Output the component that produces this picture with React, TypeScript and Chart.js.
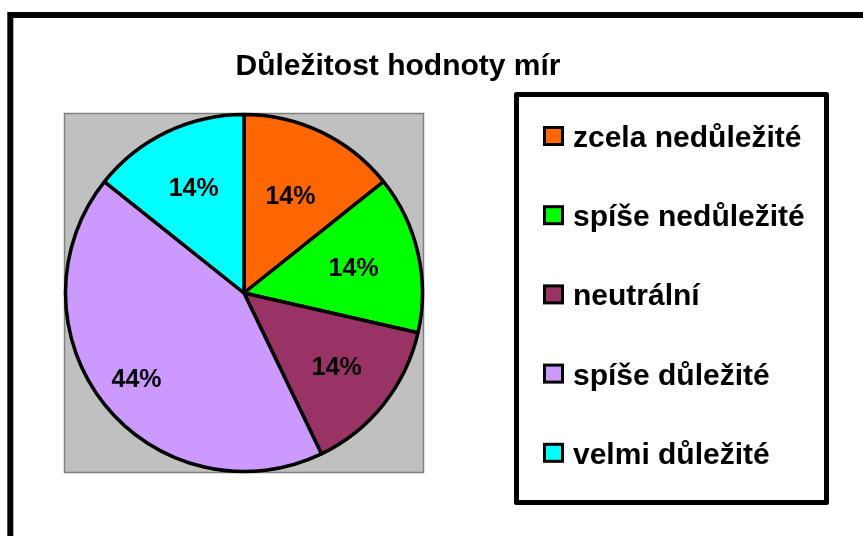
import React, { useEffect, useRef } from "react";
import { Chart, registerables } from "chart.js";

Chart.register(...registerables);

const title = "Důležitost hodnoty mír";
const categories = [
  "zcela nedůležité",
  "spíše nedůležité",
  "neutrální",
  "spíše důležité",
  "velmi důležité",
];
const values = [14.3, 14.3, 14.3, 42.9, 14.3];
const valueLabels = ["14%", "14%", "14%", "44%", "14%"];
const colors = ["#FF6600", "#00FF00", "#993366", "#CC99FF", "#00FFFF"];

const FONT = '"Liberation Sans", Arial, Helvetica, sans-serif';
const labelRadiusFactors = [0.6, 0.63, 0.665, 0.77, 0.65];

const decorPlugin = {
  id: "decor",
  beforeDraw(chart: any) {
    const ctx = chart.ctx as CanvasRenderingContext2D;
    const ca = chart.chartArea;
    ctx.save();
    ctx.fillStyle = "#FFFFFF";
    ctx.fillRect(0, 0, chart.width, chart.height);

    // outer frame (left and top edges visible)
    ctx.strokeStyle = "#000000";
    ctx.lineWidth = 6;
    ctx.lineJoin = "miter";
    ctx.beginPath();
    ctx.moveTo(10.3, 700);
    ctx.lineTo(10.3, 15);
    ctx.lineTo(1000, 15);
    ctx.stroke();

    // plot area
    ctx.fillStyle = "#C0C0C0";
    ctx.fillRect(ca.left, ca.top, ca.right - ca.left, ca.bottom - ca.top);
    ctx.strokeStyle = "#808080";
    ctx.lineWidth = 1.5;
    ctx.strokeRect(ca.left + 0.5, ca.top + 0.5, ca.right - ca.left - 1, ca.bottom - ca.top - 1);

    // title
    ctx.fillStyle = "#000000";
    ctx.font = `bold 30px ${FONT}`;
    ctx.textAlign = "center";
    ctx.textBaseline = "alphabetic";
    ctx.fillText(title, 398, 75);

    // legend box
    ctx.strokeStyle = "#000000";
    ctx.lineWidth = 5;
    ctx.lineJoin = "round";
    ctx.strokeRect(516.5, 94.5, 310, 408);

    // legend items
    ctx.textAlign = "left";
    ctx.font = `bold 30px ${FONT}`;
    categories.forEach((cat, i) => {
      const cy = 136 + i * 79.2;
      ctx.fillStyle = colors[i];
      ctx.fillRect(544.5, cy - 8.5, 18, 17);
      ctx.strokeStyle = "#000000";
      ctx.lineWidth = 3;
      ctx.lineJoin = "miter";
      ctx.strokeRect(544.5, cy - 8.5, 18, 17);
      ctx.fillStyle = "#000000";
      ctx.fillText(cat, 573, cy + 11);
    });
    ctx.restore();
  },
  afterDatasetsDraw(chart: any) {
    const ctx = chart.ctx as CanvasRenderingContext2D;
    const meta = chart.getDatasetMeta(0);
    ctx.save();
    ctx.fillStyle = "#000000";
    ctx.font = `bold 25px ${FONT}`;
    ctx.textAlign = "center";
    ctx.textBaseline = "middle";
    meta.data.forEach((arc: any, i: number) => {
      const p = arc.getProps(["x", "y", "startAngle", "endAngle", "outerRadius"], true);
      const mid = (p.startAngle + p.endAngle) / 2;
      const r = p.outerRadius * labelRadiusFactors[i];
      ctx.fillText(valueLabels[i], p.x + Math.cos(mid) * r, p.y + Math.sin(mid) * r + 1);
    });
    ctx.restore();
  },
};

export default function App() {
  const ref = useRef<HTMLCanvasElement | null>(null);
  useEffect(() => {
    document.body.style.margin = "0";
    const canvas = ref.current;
    if (!canvas) return;
    const chart = new Chart(canvas, {
      type: "pie",
      data: {
        labels: categories,
        datasets: [
          {
            data: values,
            backgroundColor: colors,
            borderColor: "#000000",
            borderWidth: 3.5,
            hoverOffset: 0,
            hoverBorderWidth: 3.5,
          },
        ],
      },
      options: {
        animation: false,
        responsive: false,
        devicePixelRatio: 1,
        radius: 178.5,
        layout: { padding: { left: 64, right: 439, top: 113, bottom: 63 } },
        plugins: {
          legend: { display: false },
          title: { display: false },
          tooltip: { enabled: false },
        },
        events: [],
      } as any,
      plugins: [decorPlugin],
    });
    return () => chart.destroy();
  }, []);
  return (
    <canvas ref={ref} width={863} height={536} style={{ display: "block", width: 863, height: 536 }} />
  );
}
